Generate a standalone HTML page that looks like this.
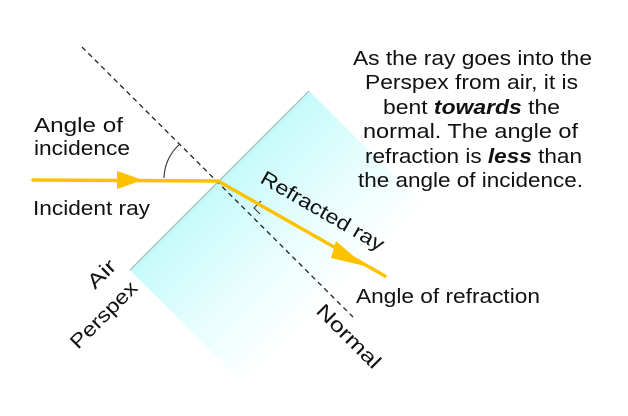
<!DOCTYPE html>
<html><head><meta charset="utf-8"><style>
html,body{margin:0;padding:0;background:#fff;}
svg{display:block;}
text{font-family:"Liberation Sans",Arial,sans-serif;fill:#111;}
</style></head><body>
<svg width="628" height="416" viewBox="0 0 628 416" xmlns="http://www.w3.org/2000/svg">
<defs>
<linearGradient id="g" gradientUnits="userSpaceOnUse" x1="215" y1="175" x2="335" y2="295">
<stop offset="0" stop-color="#c2fafa"/>
<stop offset="0.5" stop-color="#e4fdfd"/>
<stop offset="1" stop-color="#ffffff"/>
</linearGradient>
</defs>
<polygon points="309,91 130,270 275,415 455,236" fill="url(#g)"/>
<line x1="309" y1="91" x2="130" y2="270" stroke="#9cbcbc" stroke-width="1.2"/>
<line x1="82" y1="47" x2="353" y2="317" stroke="#222" stroke-width="1.3" stroke-dasharray="5,4"/>
<path d="M164,178 A46,46 0 0 1 180,144" fill="none" stroke="#333" stroke-width="1.1"/>
<path d="M261,201 L254,208 L260,214" fill="none" stroke="#333" stroke-width="1.1"/>
<line x1="33" y1="180" x2="218" y2="181" stroke="#fcc200" stroke-width="3.5" stroke-linecap="round"/>
<polygon points="117,171 143,180 117,189" fill="#fcc200"/>
<line x1="218" y1="181" x2="385" y2="276" stroke="#fcc200" stroke-width="3.5" stroke-linecap="round"/>
<polygon points="336,241 365,266 331,258" fill="#fcc200"/>
<g font-size="20">
<text x="34" y="132" textLength="89" lengthAdjust="spacingAndGlyphs">Angle of</text>
<text x="34" y="155" textLength="96" lengthAdjust="spacingAndGlyphs">incidence</text>
<text x="33" y="215" textLength="117" lengthAdjust="spacingAndGlyphs">Incident ray</text>
<text x="356" y="303" textLength="184" lengthAdjust="spacingAndGlyphs">Angle of refraction</text>
<text transform="translate(95,290) rotate(-45)" textLength="32" lengthAdjust="spacingAndGlyphs">Air</text>
<text transform="translate(78,350) rotate(-45)" textLength="86" lengthAdjust="spacingAndGlyphs">Perspex</text>
<text transform="translate(259,182) rotate(30)" textLength="139" lengthAdjust="spacingAndGlyphs">Refracted ray</text>
<text transform="translate(315,312) rotate(45)" textLength="82" lengthAdjust="spacingAndGlyphs">Normal</text>
</g>
<g font-size="20">
<text x="353" y="65" textLength="239" lengthAdjust="spacingAndGlyphs">As the ray goes into the</text>
<text x="365" y="89" textLength="213" lengthAdjust="spacingAndGlyphs">Perspex from air, it is</text>
<text x="383" y="114" textLength="177" lengthAdjust="spacingAndGlyphs">bent <tspan font-weight="bold" font-style="italic">towards</tspan> the</text>
<text x="363" y="138" textLength="215" lengthAdjust="spacingAndGlyphs">normal.  The angle of</text>
<text x="365" y="163" textLength="217" lengthAdjust="spacingAndGlyphs">refraction is <tspan font-weight="bold" font-style="italic">less</tspan> than</text>
<text x="358" y="187" textLength="225" lengthAdjust="spacingAndGlyphs">the angle of incidence.</text>
</g>
</svg>
</body></html>
